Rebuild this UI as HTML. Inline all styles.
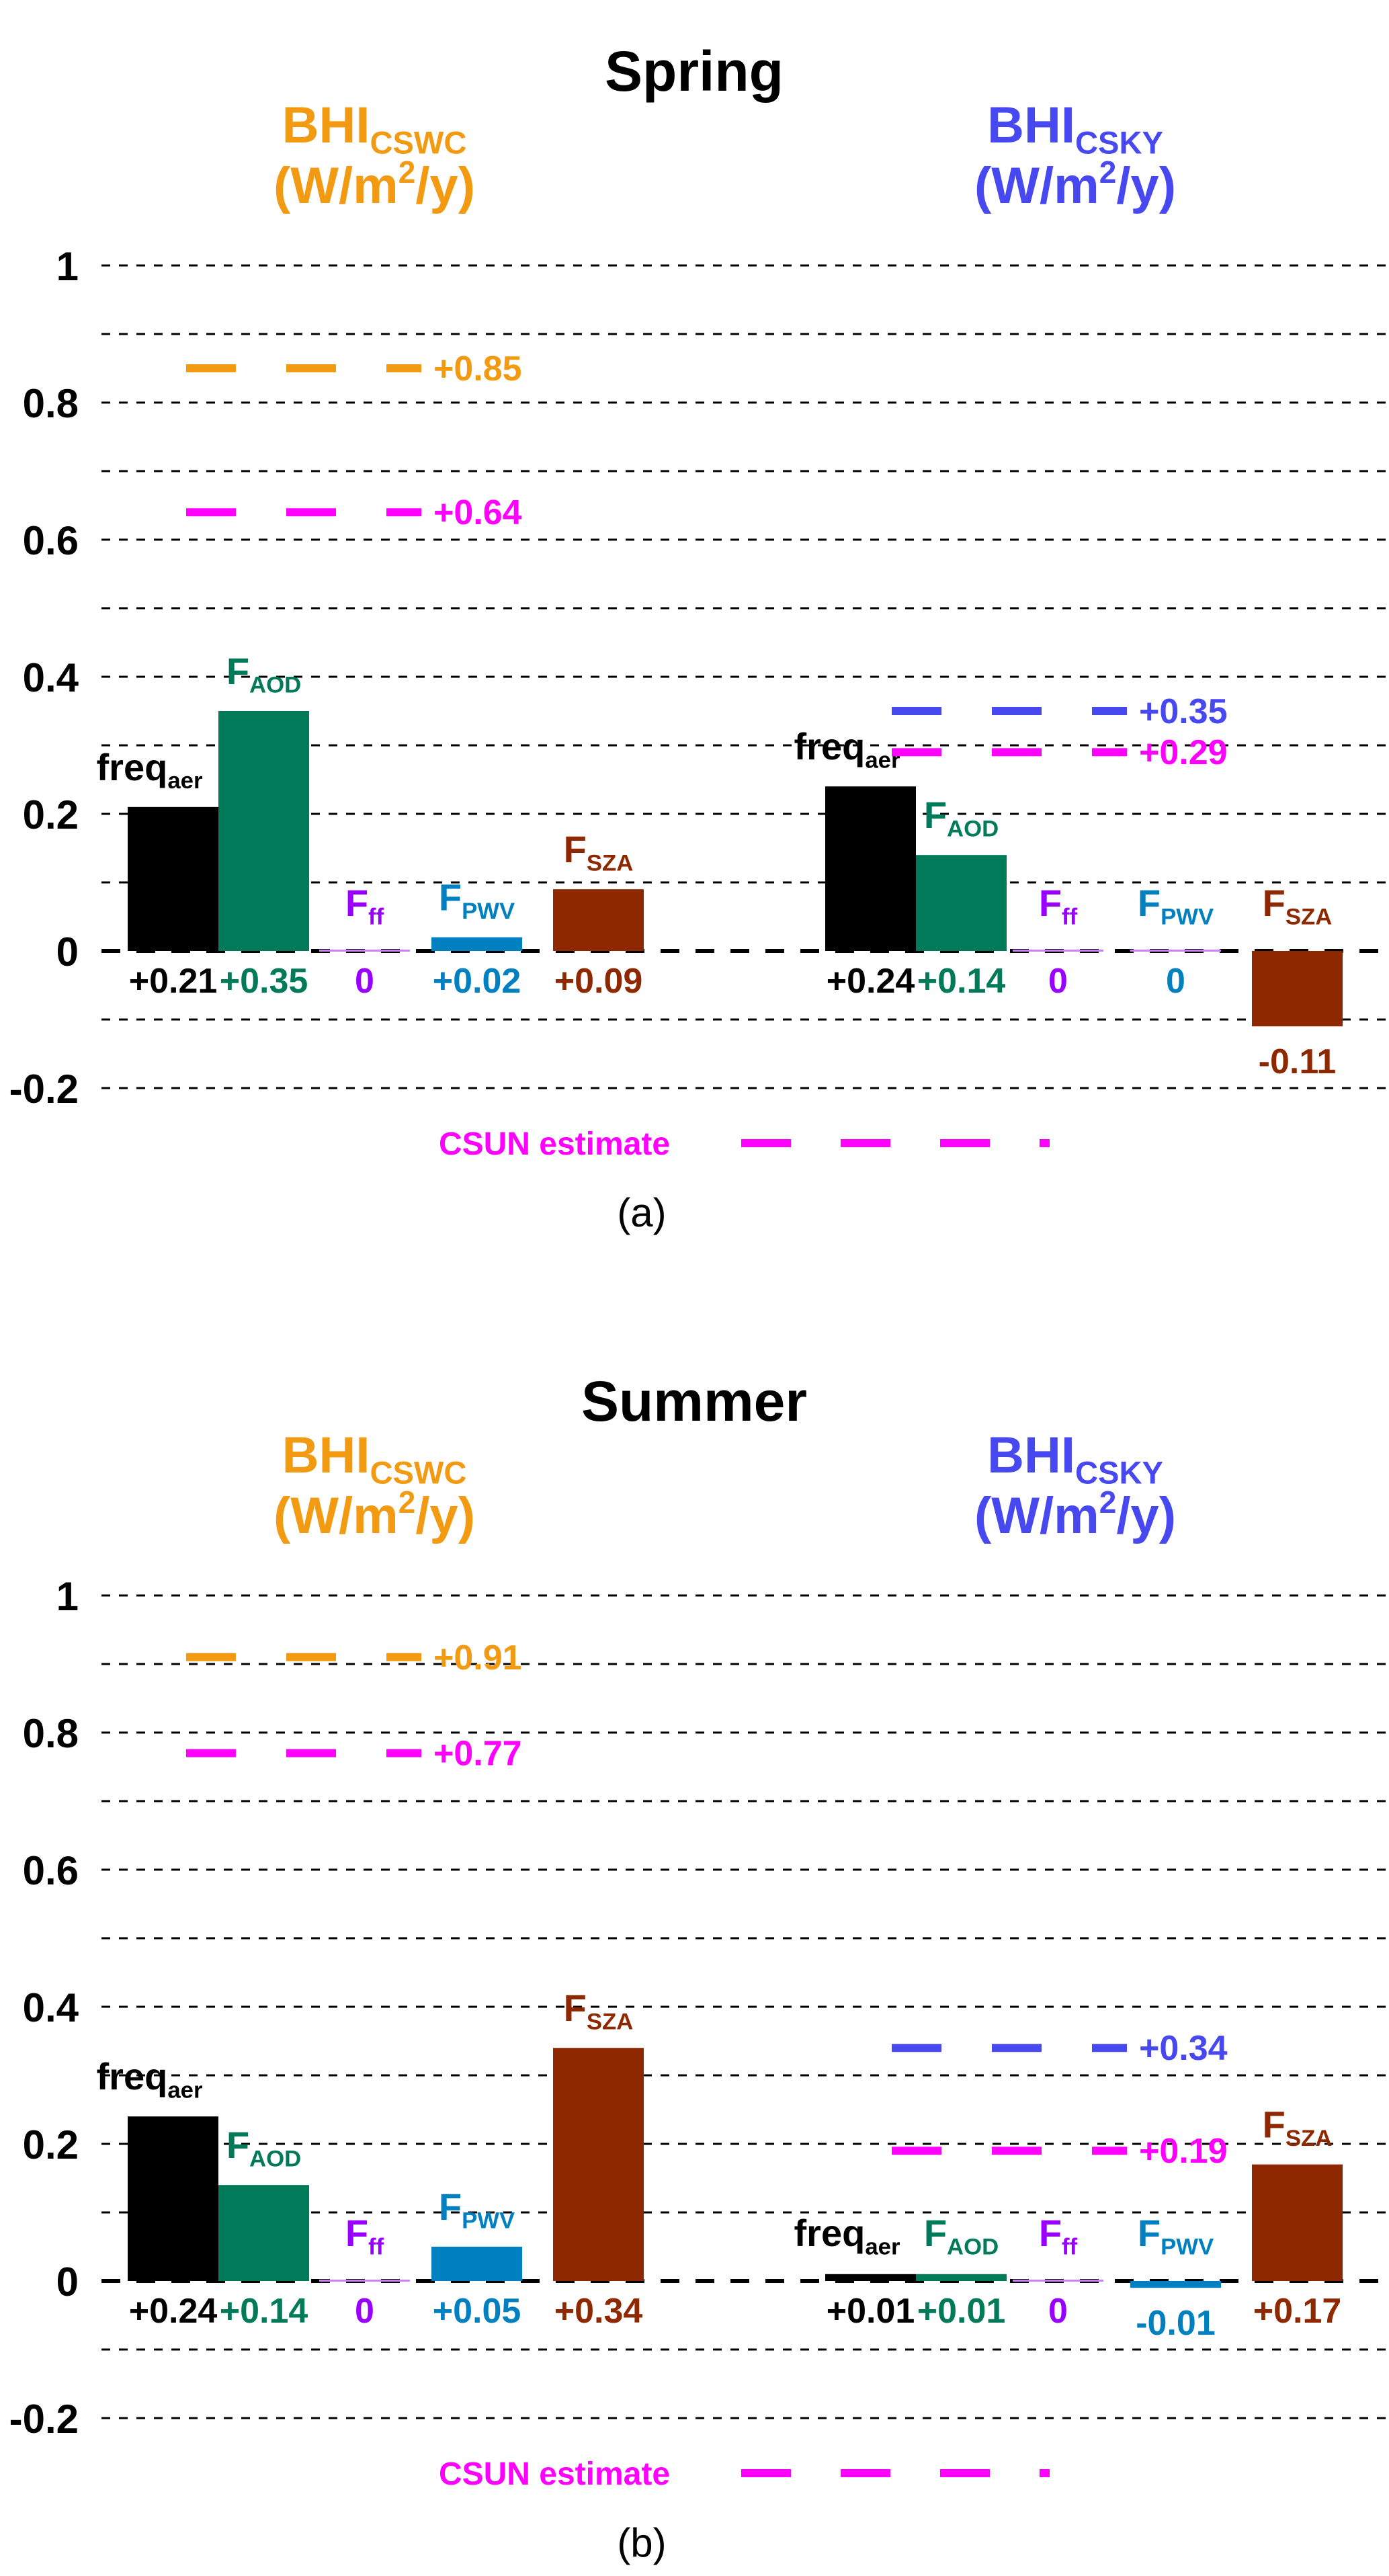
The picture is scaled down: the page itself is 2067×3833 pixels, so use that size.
<!DOCTYPE html>
<html><head><meta charset="utf-8"><style>
html,body{margin:0;padding:0;background:#fff;}
svg{display:block;font-family:"Liberation Sans","DejaVu Sans",sans-serif;}
</style></head><body>
<svg id="chart" width="2067" height="3833" viewBox="0 0 2067 3833" xmlns="http://www.w3.org/2000/svg"></svg>
<script>
const panelTitles = ["Spring", "Summer"];
const panelTags = ["(a)", "(b)"];
const categories = ["freq", "AOD", "ff", "PWV", "SZA"];
const catSubs = ["aer", "AOD", "ff", "PWV", "SZA"];
const catMain = ["freq", "F", "F", "F", "F"];
const cswcValuesSpring = [0.21, 0.35, 0, 0.02, 0.09];
const cskyValuesSpring = [0.24, 0.14, 0, 0, -0.11];
const cswcValuesSummer = [0.24, 0.14, 0, 0.05, 0.34];
const cskyValuesSummer = [0.01, 0.01, 0, -0.01, 0.17];
const cswcLabelsSpring = ["+0.21", "+0.35", "0", "+0.02", "+0.09"];
const cskyLabelsSpring = ["+0.24", "+0.14", "0", "0", "-0.11"];
const cswcLabelsSummer = ["+0.24", "+0.14", "0", "+0.05", "+0.34"];
const cskyLabelsSummer = ["+0.01", "+0.01", "0", "-0.01", "+0.17"];
const cswcTotals = [0.85, 0.91];
const cswcTotalLabels = ["+0.85", "+0.91"];
const cswcCsun = [0.64, 0.77];
const cswcCsunLabels = ["+0.64", "+0.77"];
const cskyTotals = [0.35, 0.34];
const cskyTotalLabels = ["+0.35", "+0.34"];
const cskyCsun = [0.29, 0.19];
const cskyCsunLabels = ["+0.29", "+0.19"];
const yTicks = [1, 0.8, 0.6, 0.4, 0.2, 0, -0.2];
const yTickLabels = ["1", "0.8", "0.6", "0.4", "0.2", "0", "-0.2"];
const gridVals = [1, 0.9, 0.8, 0.7, 0.6, 0.5, 0.4, 0.3, 0.2, 0.1, -0.1, -0.2];

const colors = ["#000000", "#007a58", "#9900ff", "#0080c0", "#8e2800"];
const ORANGE = "#f29b12", BLUE = "#4848f0", MAG = "#ff00ff";
const leftX = [190, 325, 475, 642, 823];
const rightX = [1228, 1363, 1507, 1682, 1863];
const BW = 135;
const NS = "http://www.w3.org/2000/svg";
const svg = document.getElementById("chart");

function el(tag, attrs, parent) {
  const e = document.createElementNS(NS, tag);
  for (const k in attrs) e.setAttribute(k, attrs[k]);
  (parent || svg).appendChild(e);
  return e;
}
function txt(parent, x, y, s, size, fill, anchor, weight) {
  const t = el("text", {x: x, y: y, "font-size": size, fill: fill, "text-anchor": anchor || "middle", "font-weight": weight || "bold"}, parent);
  t.textContent = s;
  return t;
}
function subTxt(parent, x, y, main, sub, size, fill) {
  const t = el("text", {x: x, y: y, "font-size": size, fill: fill, "text-anchor": "middle", "font-weight": "bold"}, parent);
  const a = el("tspan", {}, t); a.textContent = main;
  const b = el("tspan", {"font-size": size * 0.62, dy: size * 0.22}, t); b.textContent = sub;
  return t;
}

function drawPanel(p, cswcV, cswcL, cskyV, cskyL) {
  const off = p * 1979;
  const y = v => off + 1415 - v * 1020;
  const g = el("g", {});
  
  

  const tt = txt(g, 1033, off + 135, panelTitles[p], 84, "#000");
  
  

  const h1 = subTxt(g, 557, off + 212, "BHI", "CSWC", 76, ORANGE);
  
  
  const u1 = el("text", {x: 557, y: off + 302, "font-size": 76, fill: ORANGE, "text-anchor": "middle", "font-weight": "bold"}, g);
  u1.innerHTML = '(W/m<tspan font-size="46" dy="-30">2</tspan><tspan dy="30">/y)</tspan>';
  
  
  const h2 = subTxt(g, 1600, off + 212, "BHI", "CSKY", 76, BLUE);
  
  
  const u2 = el("text", {x: 1600, y: off + 302, "font-size": 76, fill: BLUE, "text-anchor": "middle", "font-weight": "bold"}, g);
  u2.innerHTML = '(W/m<tspan font-size="46" dy="-30">2</tspan><tspan dy="30">/y)</tspan>';
  
  

  gridVals.forEach(v => {
    const l = el("line", {x1: 151, x2: 2067, y1: y(v), y2: y(v), stroke: "#000", "stroke-width": 3, "stroke-dasharray": "13 13"}, g);
    
    
  });
  yTicks.forEach((v, i) => {
    const t = txt(g, 117, y(v) + 22, yTickLabels[i], 60, "#000", "end");
    
    
  });

  function group(xs, vals, labs, side) {
    vals.forEach((v, i) => {
      const top = Math.min(y(v), y(0)), h = Math.abs(y(v) - y(0));
      const r = el("rect", {x: xs[i], y: v === 0 ? y(0) - 2 : top, width: BW, height: v === 0 ? 3 : h, fill: v === 0 ? "#d080ff" : colors[i]}, g);
      
      
      const cx = xs[i] + BW / 2;
      const ly = Math.min(y(Math.max(v, 0)) - 40, y(0) - 52);
      const lab = subTxt(g, i === 0 ? cx - 35 : cx, ly, catMain[i], catSubs[i], 56, colors[i]);
      
      
      const vy = v < 0 ? y(v) + 70 : y(0) + 62;
      const vl = txt(g, cx, vy, labs[i], 52, colors[i]);
      
      
    });
  }
  const zl = el("line", {x1: 151, x2: 2067, y1: y(0), y2: y(0), stroke: "#000", "stroke-width": 6, "stroke-dasharray": "28 24"}, g);
  
  
  group(leftX, cswcV, cswcL, "cswc");
  group(rightX, cskyV, cskyL, "csky");

  function refLine(x1, v, color, lab, name) {
    const l = el("line", {x1: x1, x2: x1 + 350, y1: y(v), y2: y(v), stroke: color, "stroke-width": 12, "stroke-dasharray": "74 75"}, g);
    
    
    const t = txt(g, x1 + 368, y(v) + 18, lab, 52, color, "start");
    
    
  }
  refLine(277, cswcTotals[p], ORANGE, cswcTotalLabels[p], "cswc-total");
  refLine(277, cswcCsun[p], MAG, cswcCsunLabels[p], "cswc-csun");
  refLine(1327, cskyTotals[p], BLUE, cskyTotalLabels[p], "csky-total");
  refLine(1327, cskyCsun[p], MAG, cskyCsunLabels[p], "csky-csun");

  const lg = txt(g, 825, off + 1718, "CSUN estimate", 48, MAG);
  
  
  const ll = el("line", {x1: 1103, x2: 1562, y1: off + 1701, y2: off + 1701, stroke: MAG, "stroke-width": 12, "stroke-dasharray": "74 74"}, g);
  
  

  const tag = txt(g, 955, off + 1825, panelTags[p], 60, "#000", "middle", "normal");
  
  
}
drawPanel(0, cswcValuesSpring, cswcLabelsSpring, cskyValuesSpring, cskyLabelsSpring);
drawPanel(1, cswcValuesSummer, cswcLabelsSummer, cskyValuesSummer, cskyLabelsSummer);
</script>
</body></html>
